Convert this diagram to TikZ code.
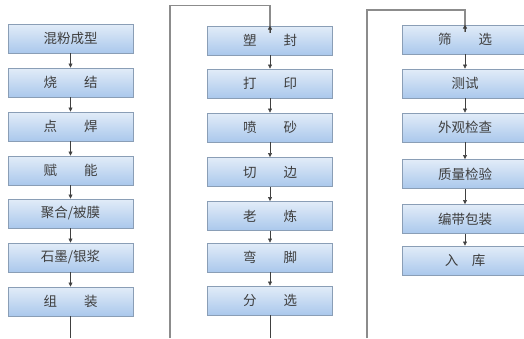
\documentclass[tikz,border=0pt]{standalone}
\usepackage{fontspec}
\newfontfamily\cjk{Noto Sans CJK SC}
\usetikzlibrary{arrows.meta}
\definecolor{boxtop}{HTML}{E2ECF8}
\definecolor{boxbot}{HTML}{AAC8EC}
\definecolor{boxline}{HTML}{8A9EB6}
\definecolor{txt}{HTML}{3E3E3E}
\tikzset{
  stepbox/.style={draw=boxline, line width=0.9pt, top color=boxtop, bottom color=boxbot,
    minimum width=125pt, minimum height=29pt, inner sep=0pt,
    font=\cjk\fontsize{13.5}{15}\selectfont, text=txt},
  flow/.style={draw=black!75, line width=0.6pt, -{Triangle[length=4pt,width=4pt]}},
  plain/.style={draw=black!75, line width=0.6pt},
  back/.style={draw=black!45, line width=1.1pt},
}
\begin{document}
\begin{tikzpicture}[x=1pt,y=-1pt]
\useasboundingbox (0,0) rectangle (524,338);
\clip (0,0) rectangle (524,338);
% column 1
\node[stepbox] (a1) at (70.5,38.5) {混粉成型};
\node[stepbox] (a2) at (70.5,82.5) {烧\quad\quad 结};
\node[stepbox] (a3) at (70.5,126.5) {点\quad\quad 焊};
\node[stepbox] (a4) at (70.5,170.5) {赋\quad\quad 能};
\node[stepbox] (a5) at (70.5,213.5) {聚合/被膜};
\node[stepbox] (a6) at (70.5,257.5) {石墨/银浆};
\node[stepbox] (a7) at (70.5,301.5) {组\quad\quad 装};
% column 2
\node[stepbox] (b1) at (270,40.5) {塑\quad\quad 封};
\node[stepbox] (b2) at (270,83.5) {打\quad\quad 印};
\node[stepbox] (b3) at (270,127.5) {喷\quad\quad 砂};
\node[stepbox] (b4) at (270,172) {切\quad\quad 边};
\node[stepbox] (b5) at (270,216) {老\quad\quad 炼};
\node[stepbox] (b6) at (270,257.5) {弯\quad\quad 脚};
\node[stepbox] (b7) at (270,300.5) {分\quad\quad 选};
% column 3
\node[stepbox] (c1) at (465,39.5) {筛\quad\quad 选};
\node[stepbox] (c2) at (465,83.5) {测试};
\node[stepbox] (c3) at (465,127.5) {外观检查};
\node[stepbox] (c4) at (465,174) {质量检验};
\node[stepbox] (c5) at (465,219) {编带包装};
\node[stepbox] (c6) at (465,260.5) {入\quad 库};
% helper coordinates
\coordinate (a7end) at (70.5,338);
\coordinate (b7end) at (270,338);
\coordinate (p1) at (170,338);
\coordinate (p2) at (170,5.5);
\coordinate (q1) at (367,338);
\coordinate (q2) at (367,10);
% arrows
\foreach \u/\v in {a1/a2,a2/a3,a3/a4,a4/a5,a5/a6,a6/a7,
                   b1/b2,b2/b3,b3/b4,b4/b5,b5/b6,b6/b7,
                   c1/c2,c2/c3,c3/c4,c4/c5,c5/c6}
  \draw[flow] (\u) -- (\v);
\draw[plain] (a7) -- (a7end);
\draw[plain] (b7) -- (b7end);
\draw[back] (p1) -- (p2) -| ([yshift=-7pt]b1.north);
\draw[flow] ([yshift=-7pt]b1.north) -- (b1.north);
\draw[back] (q1) -- (q2) -| ([yshift=-7pt]c1.north);
\draw[flow] ([yshift=-7pt]c1.north) -- (c1.north);
\end{tikzpicture}
\end{document}
